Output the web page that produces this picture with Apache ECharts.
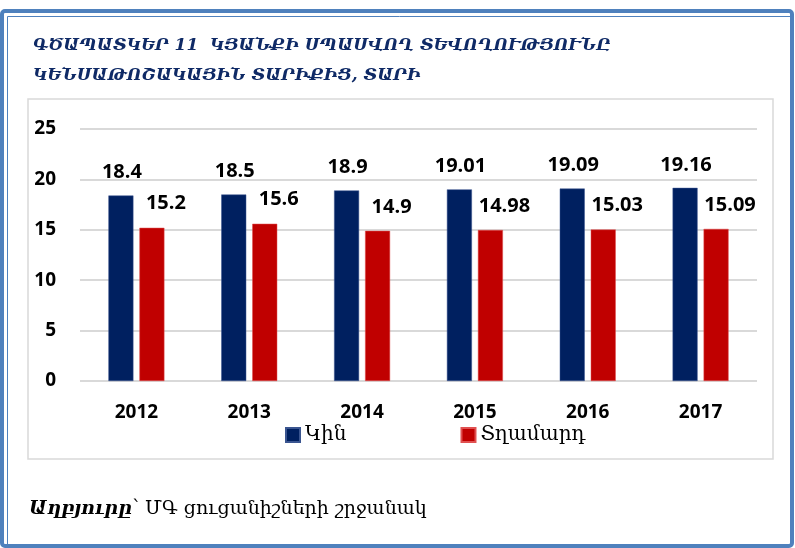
<!DOCTYPE html>
<html>
<head>
<meta charset="utf-8">
<script src="https://cdn.jsdelivr.net/npm/echarts@6/dist/echarts.min.js"></script>
<style>
  html, body { margin: 0; padding: 0; background: #fff; }
  #chart { width: 795px; height: 548px; }
</style>
</head>
<body>
<div id="chart"></div>
<script>
// data
var years = ['2012', '2013', '2014', '2015', '2016', '2017'];
var women = [18.4, 18.5, 18.9, 19.01, 19.09, 19.16];
var men = [15.2, 15.6, 14.9, 14.98, 15.03, 15.09];
var seriesNames = ['Կին', 'Տղամարդ'];
var yTicks = [0, 5, 10, 15, 20, 25];

var titleLines = ['ԳԾԱՊԱՏԿԵՐ 11  ԿՅԱՆՔԻ ՍՊԱՍՎՈՂ ՏԵՎՈՂՈՒԹՅՈՒՆԸ', 'ԿԵՆՍԱԹՈՇԱԿԱՅԻՆ ՏԱՐԻՔԻՑ, ՏԱՐԻ'];
var sourceHead = 'Աղբյուրը';
var sourceText = '՝ ՄԳ ցուցանիշների շրջանակ';

var numFont = '"Open Sans", "DejaVu Sans", sans-serif';
var armFont = '"DejaVu Serif", serif';

var myChart = echarts.init(document.getElementById('chart'));

var option = {
    animation: false,
    title: {
        text: titleLines.join('\n'),
        left: 28,
        top: 26,
        textStyle: {
            fontFamily: armFont,
            fontStyle: 'italic',
            fontWeight: 'bold',
            fontSize: 17,
            lineHeight: 30,
            color: '#0f2a66'
        }
    },
    legend: {
        data: seriesNames,
        left: 280,
        top: 420,
        itemWidth: 14,
        itemHeight: 14,
        itemGap: 114,
        icon: 'rect',
        textStyle: {
            fontFamily: armFont,
            fontSize: 20,
            color: '#000'
        }
    },
    grid: {
        left: 80,
        right: 38,
        top: 129,
        bottom: 167
    },
    xAxis: {
        type: 'category',
        data: years,
        axisLine: { show: false },
        axisTick: { show: false },
        axisLabel: {
            margin: 22,
            fontFamily: numFont,
            fontWeight: 'bold',
            fontSize: 19,
            color: '#000'
        }
    },
    yAxis: {
        type: 'value',
        min: yTicks[0],
        max: yTicks[yTicks.length - 1],
        interval: 5,
        axisLine: { show: false },
        axisTick: { show: false },
        splitLine: { lineStyle: { color: '#d9d9d9', width: 2 } },
        axisLabel: {
            margin: 24,
            fontFamily: numFont,
            fontWeight: 'bold',
            fontSize: 19,
            color: '#000'
        }
    },
    series: [
        {
            name: seriesNames[0],
            type: 'bar',
            data: women,
            barWidth: 25,
            barGap: '24%',
            itemStyle: { color: '#002060', borderColor: '#3a5590', borderWidth: 0.5 },
            label: {
                show: true,
                position: 'top',
                distance: 13,
                offset: [1, 0],
                fontFamily: numFont,
                fontWeight: 'bold',
                fontSize: 20,
                color: '#000'
            }
        },
        {
            name: seriesNames[1],
            type: 'bar',
            data: men,
            barWidth: 25,
            itemStyle: { color: '#c00000', borderColor: '#e05050', borderWidth: 0.5 },
            label: {
                show: true,
                position: 'top',
                distance: 14,
                offset: [14, 0],
                fontFamily: numFont,
                fontWeight: 'bold',
                fontSize: 20,
                color: '#000'
            }
        }
    ],
    graphic: [
        // outer blue frame
        {
            type: 'rect',
            shape: { x: 2, y: 11, width: 790, height: 535, r: 3 },
            style: { fill: 'none', stroke: '#4f81bd', lineWidth: 4 },
            silent: true
        },
        {
            type: 'rect',
            shape: { x: 7.5, y: 16.5, width: 784, height: 529 },
            style: { fill: 'none', stroke: '#4f81bd', lineWidth: 1 },
            silent: true
        },
        // chart area box
        {
            type: 'rect',
            shape: { x: 28, y: 99, width: 745, height: 360 },
            style: { fill: 'none', stroke: '#d9d9d9', lineWidth: 1.5 },
            silent: true
        },
        {
            type: 'text',
            left: 29,
            top: 500,
            style: {
                text: sourceHead,
                fontFamily: armFont,
                fontStyle: 'italic',
                fontWeight: 'bold',
                fontSize: 19,
                fill: '#000'
            }
        },
        {
            type: 'text',
            left: 132,
            top: 500,
            style: {
                text: sourceText,
                fontFamily: armFont,
                fontSize: 19,
                fill: '#000'
            }
        }
    ]
};

myChart.setOption(option);
</script>
</body>
</html>
